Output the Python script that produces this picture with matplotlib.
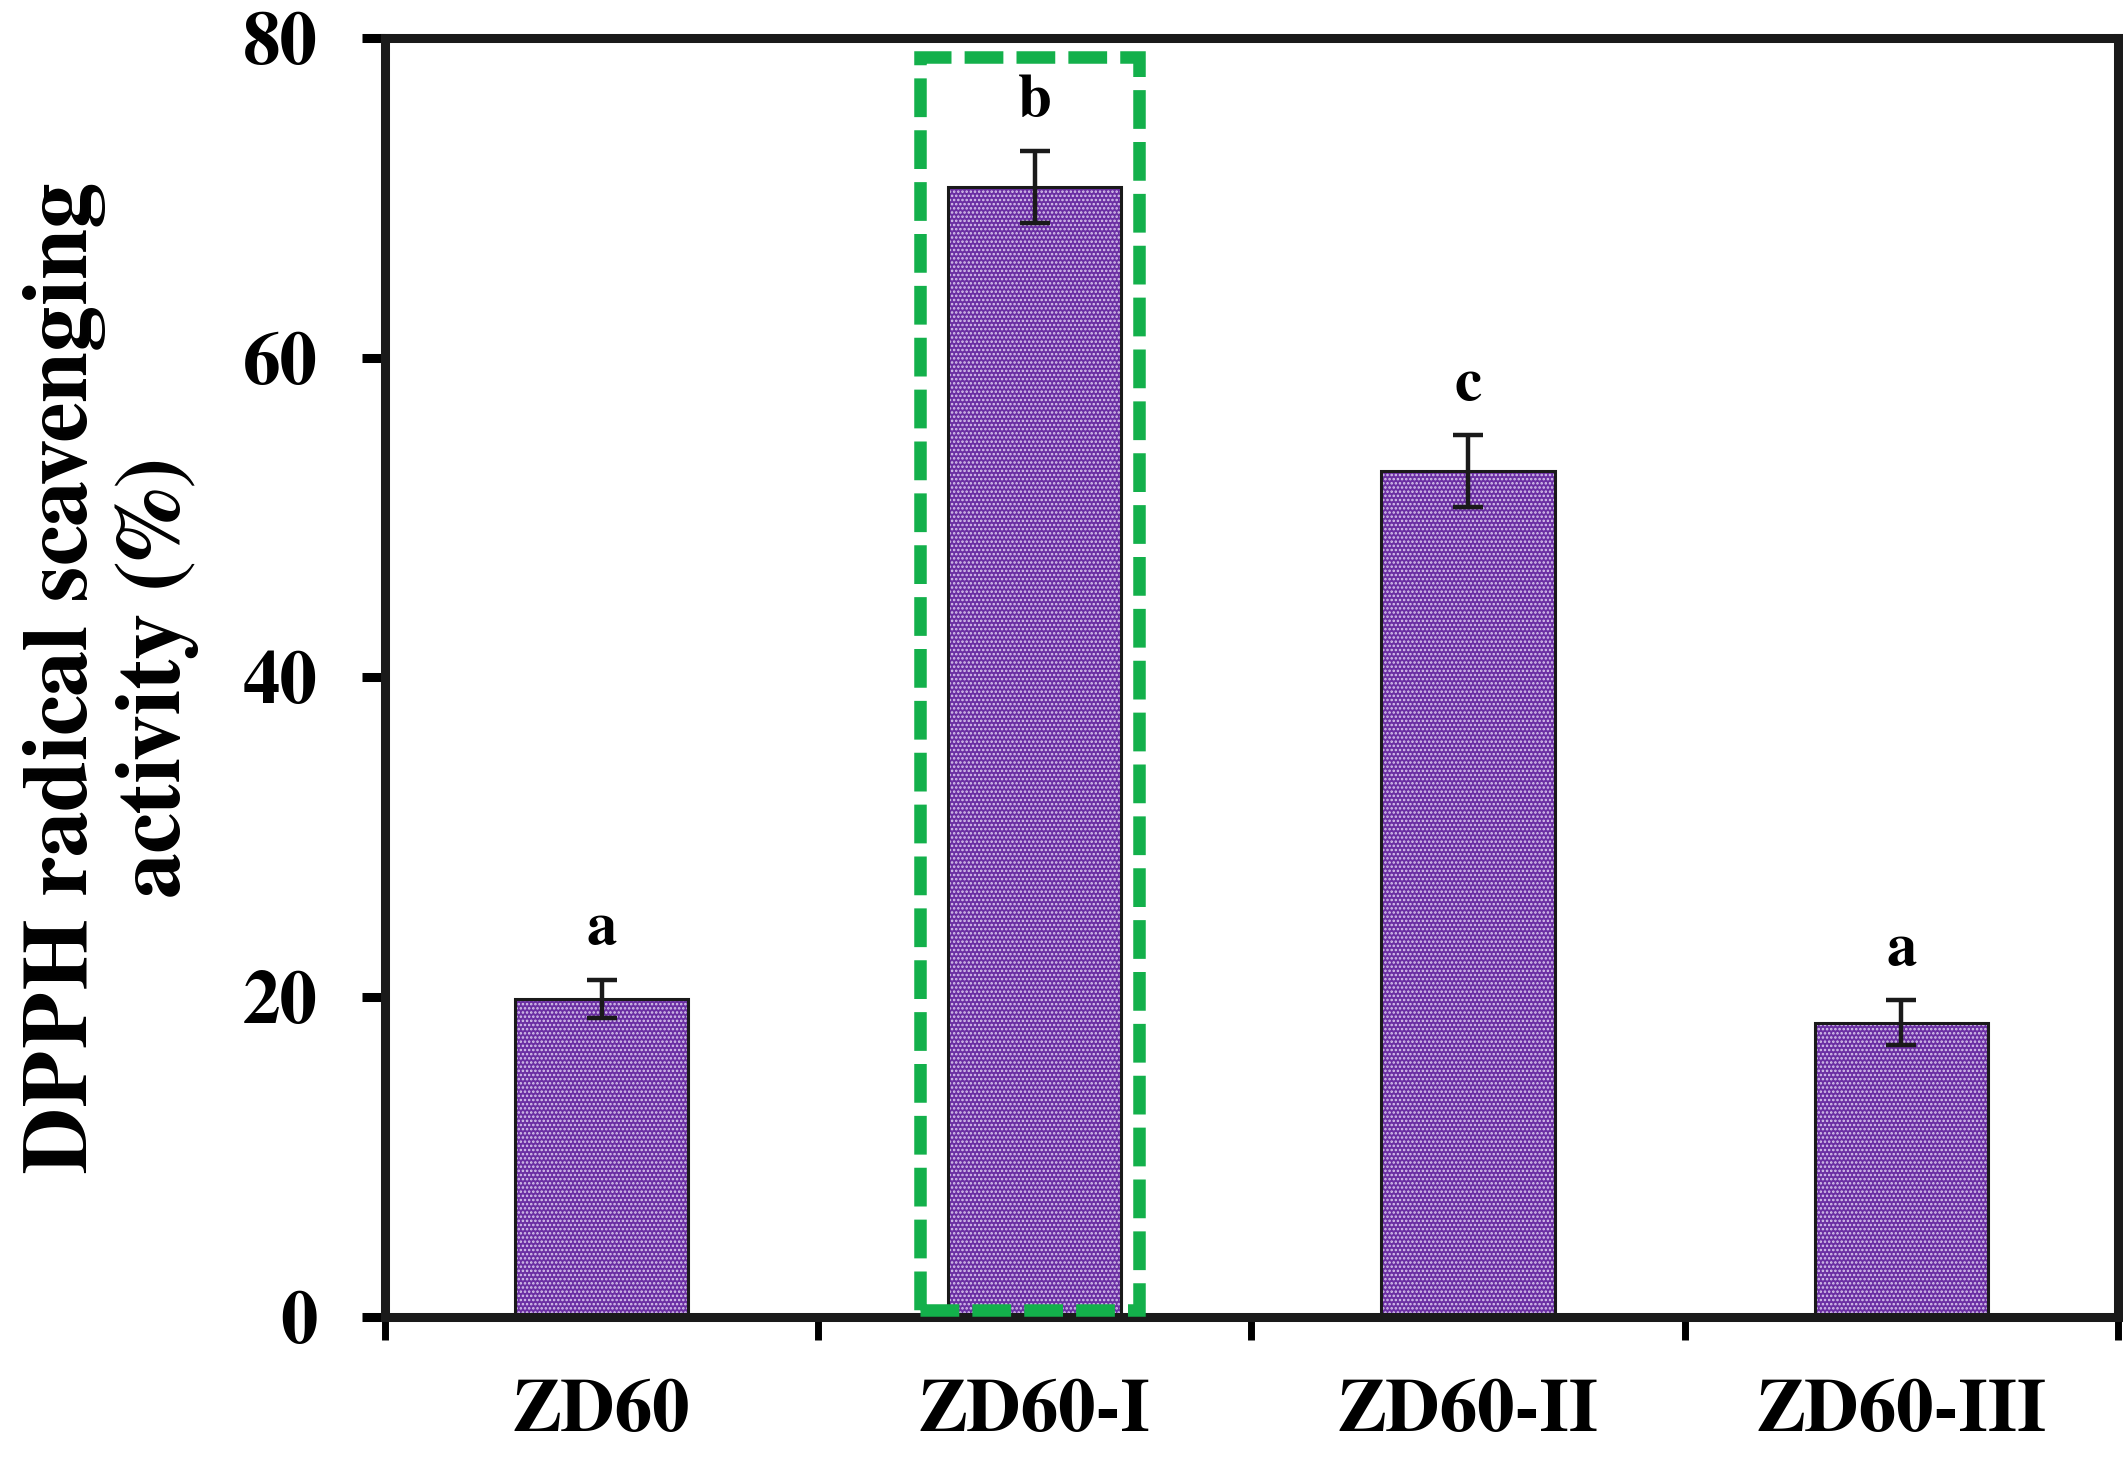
import matplotlib.pyplot as plt
from matplotlib.patches import Rectangle

# data
samples = ['ZD60', 'ZD60-I', 'ZD60-II', 'ZD60-III']
dpph = [19.9, 70.7, 52.9, 18.4]
dpph_err = [1.2, 2.25, 2.25, 1.4]
letters = ['a', 'b', 'c', 'a']
y_ticks = [0, 20, 40, 60, 80]

# Times-like bold serif
plt.rcParams['font.family'] = ['FreeSerif', 'DejaVu Serif']
plt.rcParams['font.weight'] = 'bold'
plt.rcParams['hatch.linewidth'] = 1.2

fig = plt.figure(figsize=(21.23, 14.62), dpi=100)
ax = fig.add_axes([0.1813, 0.0992, 0.8163, 0.8748])

x = list(range(len(samples)))
# purple fill with white dots, then black outline on top
ax.bar(x, dpph, width=0.4, color='#6b2fa3', edgecolor='#d9c8ee', hatch='....', linewidth=0, zorder=2)
ax.bar(x, dpph, width=0.4, fill=False, edgecolor='#1a1a1a', linewidth=2.2, zorder=3)
ax.errorbar(x, dpph, yerr=dpph_err, fmt='none', ecolor='#1a1a1a', elinewidth=3.2,
            capsize=10.5, capthick=3.2, zorder=4)

# significance letters
for xi, v, e, lab in zip(x, dpph, dpph_err, letters):
    ax.text(xi, v + e + 2.2, lab, ha='center', va='baseline', fontsize=44, fontweight='bold')

# green dashed box around ZD60-I
box = Rectangle((0.736, 0.43), 0.505, 78.37, fill=False, edgecolor='#13b04b', linewidth=9,
                linestyle=(0, (3.1, 1.05)), zorder=5, clip_on=False)
ax.add_patch(box)

ax.set_xlim(-0.5, 3.5)
ax.set_ylim(0, 80)
ax.set_yticks(y_ticks)
ax.set_xticks([-0.5, 0.5, 1.5, 2.5, 3.5])
ax.set_xticklabels([])
ax.set_xticks(x, minor=True)
ax.set_xticklabels(samples, minor=True)

ax.tick_params(axis='y', direction='out', length=16.5, width=6.5, labelsize=54, pad=32)
ax.tick_params(axis='x', which='major', direction='out', length=16.5, width=5)
ax.tick_params(axis='x', which='minor', length=0, labelsize=54, pad=45)

for s in ax.spines.values():
    s.set_linewidth(6.5)
    s.set_color('#1a1a1a')

ax.set_ylabel('DPPH radical scavenging\nactivity (%)', fontsize=66, fontweight='bold',
              linespacing=1.15)
ax.yaxis.set_label_coords(-0.107, 0.5)

fig.savefig('out.png', dpi=100)
